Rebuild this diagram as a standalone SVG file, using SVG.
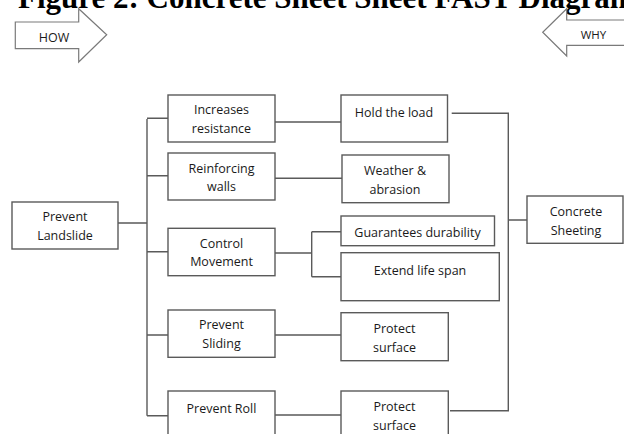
<svg xmlns="http://www.w3.org/2000/svg" width="624" height="434" viewBox="0 0 624 434">
<style>
.box{fill:#fff;stroke:#5a5a5a;stroke-width:1.4}
.t{font-family:"Open Sans","Noto Sans","Liberation Sans",sans-serif;font-size:12.5px;fill:#1a1a1a;text-anchor:middle}
.c{fill:none;stroke:#5a5a5a;stroke-width:1.4}
.arr{fill:#fff;stroke:#7a7a7a;stroke-width:1.2}
.title{font-family:"Liberation Serif","Times New Roman",serif;font-weight:bold;font-size:31px;fill:#000}
</style>
<rect width="624" height="434" fill="#fff"/>
<text class="title" x="18" y="8">Figure 2: Concrete Sheet Sheet FAST Diagram</text>
<g id="how">
<polygon class="arr" points="15.3,22 78.7,22 78.7,8.7 106.7,34.7 78.7,62 78.7,48.7 15.3,48.7"/>
<text class="t" x="54" y="41.5">HOW</text>
</g>
<g id="why">
<polygon class="arr" points="640,20 566.7,20 566.7,8.7 542.7,32.3 566.7,56 566.7,45.3 640,45.3"/>
<text class="t" x="593.5" y="39" style="font-size:11.5px">WHY</text>
</g>
<g id="connectors">
<path class="c" d="M118,223H147M147,119V415.7M147,118.3H168M147,175.7H168M147,251.7H168M147,335H168M147,415.7H168"/>
<path class="c" d="M275,122H341M275,178.3H342M275,253H311.7M311.7,231.7V276.7M311.7,231.7H341M311.7,276.7H341M275,335H341M275,415H341"/>
<path class="c" d="M451.7,113.3H508.3V410.7H450M508.3,220H527"/>
</g>
<g id="prevent-landslide"><rect class="box" x="12" y="202" width="106" height="47"/><text class="t" x="65" y="221">Prevent</text><text class="t" x="65" y="240">Landslide</text></g>
<g id="increases-resistance"><rect class="box" x="168" y="95" width="107" height="47"/><text class="t" x="221.5" y="114">Increases</text><text class="t" x="221.5" y="133">resistance</text></g>
<g id="reinforcing-walls"><rect class="box" x="168" y="153" width="107" height="47"/><text class="t" x="221.5" y="172.5">Reinforcing</text><text class="t" x="221.5" y="191">walls</text></g>
<g id="control-movement"><rect class="box" x="168" y="228.3" width="107" height="47.4"/><text class="t" x="221.5" y="247.5">Control</text><text class="t" x="221.5" y="266">Movement</text></g>
<g id="prevent-sliding"><rect class="box" x="168" y="310" width="107" height="47.3"/><text class="t" x="221.5" y="329">Prevent</text><text class="t" x="221.5" y="348">Sliding</text></g>
<g id="prevent-roll"><rect class="box" x="168" y="391" width="107" height="47"/><text class="t" x="221.5" y="412.5">Prevent Roll</text></g>
<g id="hold-the-load"><rect class="box" x="341" y="95" width="106.5" height="47"/><text class="t" x="394" y="116.5">Hold the load</text></g>
<g id="weather-abrasion"><rect class="box" x="342" y="155" width="107" height="47.7"/><text class="t" x="395" y="175">Weather &amp;</text><text class="t" x="395" y="193.5">abrasion</text></g>
<g id="guarantees-durability"><rect class="box" x="341" y="216" width="153.5" height="29.7"/><text class="t" x="417.5" y="236.5">Guarantees durability</text></g>
<g id="extend-life-span"><rect class="box" x="341" y="252.7" width="158.3" height="48"/><text class="t" x="420" y="275">Extend life span</text></g>
<g id="protect-surface-1"><rect class="box" x="341" y="312.7" width="107.3" height="48"/><text class="t" x="394.5" y="332.5">Protect</text><text class="t" x="394.5" y="351.5">surface</text></g>
<g id="protect-surface-2"><rect class="box" x="341" y="391" width="107.3" height="48"/><text class="t" x="394.5" y="410.5">Protect</text><text class="t" x="394.5" y="429.5">surface</text></g>
<g id="concrete-sheeting"><rect class="box" x="527" y="196" width="96" height="47.3"/><text class="t" x="576" y="215.5">Concrete</text><text class="t" x="576" y="234.5">Sheeting</text></g>
</svg>
